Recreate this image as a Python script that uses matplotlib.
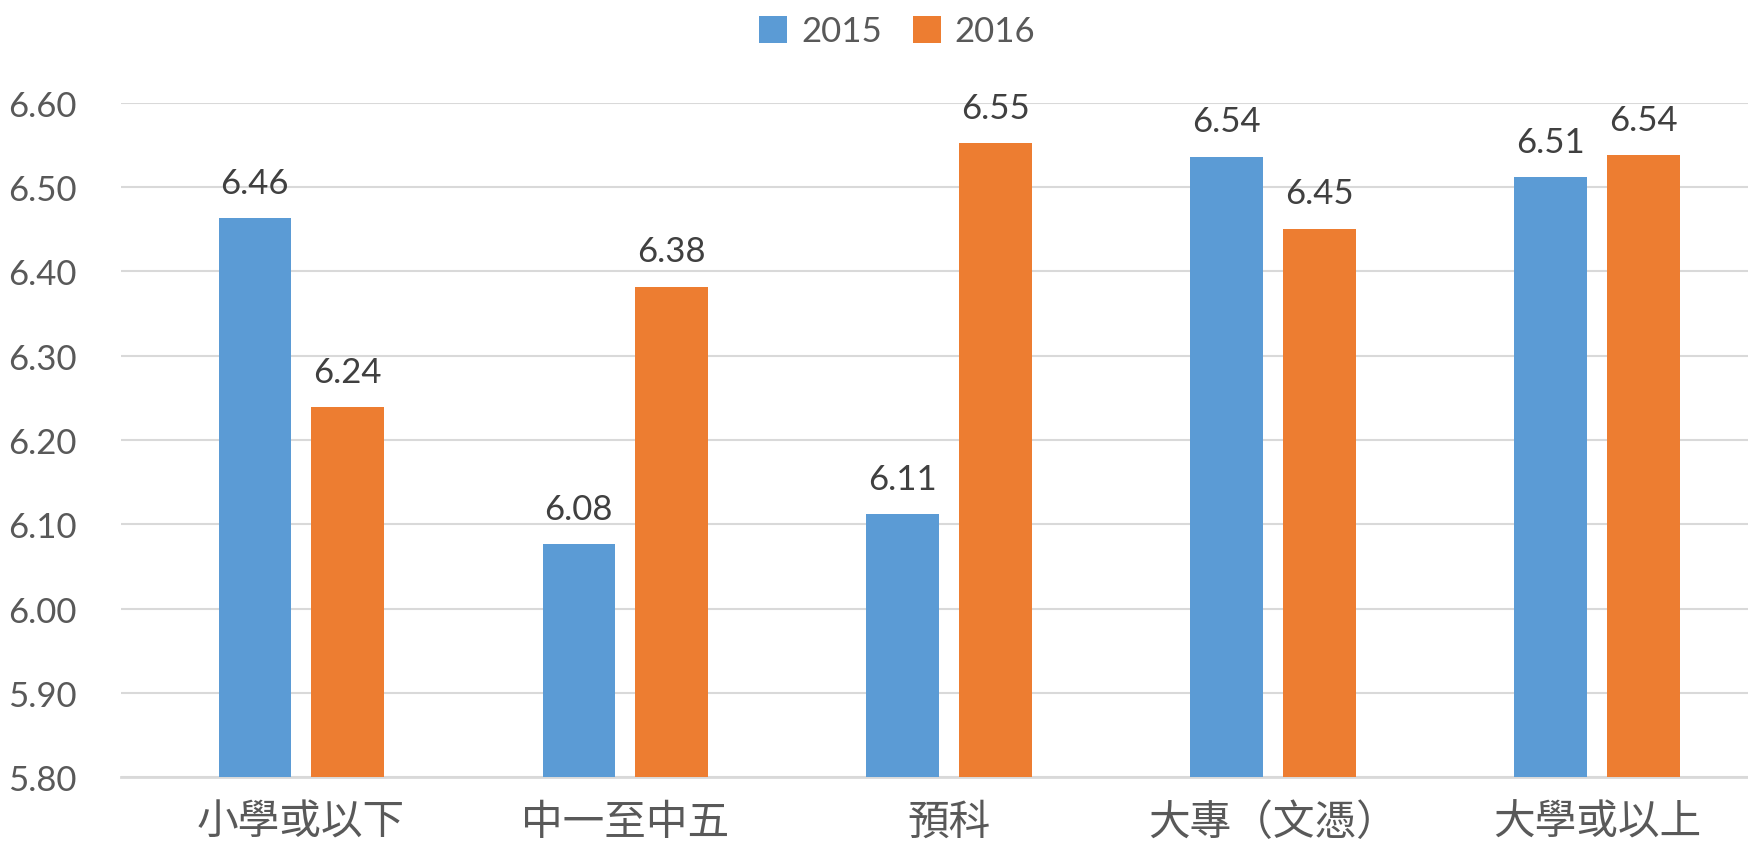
import matplotlib
matplotlib.use("Agg")
import matplotlib.pyplot as plt
import numpy as np

## data
categories = ["小學或以下", "中一至中五", "預科", "大專（文憑）", "大學或以上"]
years = ["2015", "2016"]
values_2015 = [6.463, 6.076, 6.112, 6.536, 6.512]
values_2016 = [6.239, 6.382, 6.552, 6.451, 6.538]
yticks = [5.80, 5.90, 6.00, 6.10, 6.20, 6.30, 6.40, 6.50, 6.60]

colors = ["#5B9BD5", "#ED7D31"]
text_color = "#595959"
grid_color = "#D9D9D9"

plt.rcParams["font.family"] = ["Lato", "DejaVu Sans"]

fig = plt.figure(figsize=(17.49, 8.53), dpi=100)
ax = fig.add_axes([0.0692, 0.0879, 0.9308, 0.7902])

x = np.arange(len(categories))
width = 0.224
offset = 0.143

for vals, col, yr, sign in [(values_2015, colors[0], years[0], -1),
                            (values_2016, colors[1], years[1], 1)]:
    ax.bar(x + sign * offset, np.array(vals) - 5.80, width, bottom=5.80,
           color=col, label=yr, zorder=3)
    for xi, v in zip(x + sign * offset, vals):
        ax.annotate("%.2f" % v, (xi, v), xytext=(0, 14), textcoords="offset points",
                    ha="center", va="bottom", fontsize=25, color="#404040",
                    annotation_clip=False)

ax.set_ylim(5.80, 6.60)
ax.set_xlim(-0.556, 4.469)
ax.set_yticks(yticks)
ax.set_yticklabels(["%.2f" % t for t in yticks], fontsize=25, color=text_color)
ax.set_xticks(x)
ax.set_xticklabels(categories, fontsize=30, color=text_color,
                   family=["Noto Sans CJK TC", "DejaVu Sans"], fontweight="light")
ax.tick_params(axis="both", length=0)
ax.tick_params(axis="y", pad=32)
ax.tick_params(axis="x", pad=18)

ax.grid(axis="y", color=grid_color, linewidth=1.5, zorder=0)
for s in ["top", "right", "left"]:
    ax.spines[s].set_visible(False)
ax.spines["bottom"].set_color(grid_color)
ax.spines["bottom"].set_linewidth(2)

leg = fig.legend(loc="center", bbox_to_anchor=(0.513, 0.962), ncol=2, frameon=False,
                 fontsize=25, handlelength=0.8, handleheight=0.8, handletextpad=0.4,
                 columnspacing=0.9)
for t in leg.get_texts():
    t.set_color(text_color)

fig.savefig("out.png", dpi=100)
